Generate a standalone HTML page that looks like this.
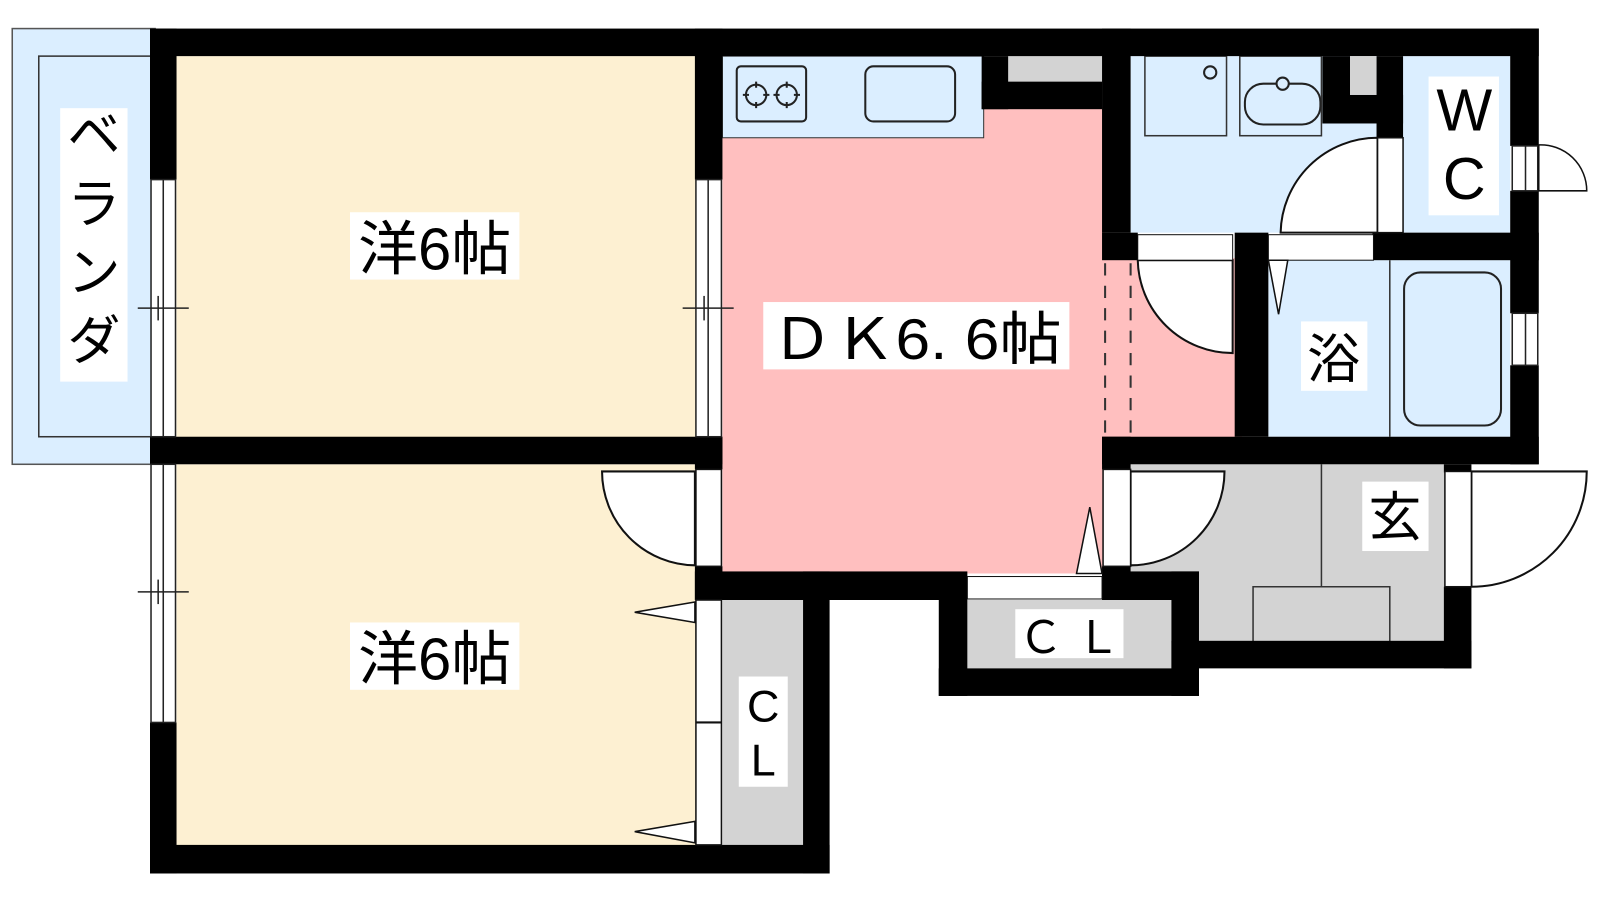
<!DOCTYPE html>
<html><head><meta charset="utf-8"><style>
html,body{margin:0;padding:0;background:#fff;width:1600px;height:900px;overflow:hidden}
svg{display:block}
text{font-family:"Liberation Sans","Noto Sans CJK JP",sans-serif;fill:#000}
</style></head><body>
<svg width="1600" height="900" viewBox="0 0 1568 882" xmlns="http://www.w3.org/2000/svg">
<!-- veranda -->
<rect x="12" y="28" width="140" height="427" fill="#dbeeff" stroke="#555" stroke-width="1.5"/>
<rect x="38" y="55" width="112" height="373" fill="none" stroke="#333" stroke-width="1.5"/>
<rect x="59" y="106" width="66" height="268" fill="#fff"/>
<text x="92" y="150" font-size="52" text-anchor="middle">ベ</text>
<text x="92" y="218" font-size="52" text-anchor="middle">ラ</text>
<text x="92" y="285" font-size="52" text-anchor="middle">ン</text>
<text x="92" y="352" font-size="52" text-anchor="middle">ダ</text>
<!-- rooms -->
<rect x="173" y="55" width="510" height="375" fill="#fdf0d2"/>
<rect x="173" y="455" width="510" height="375" fill="#fdf0d2"/>
<rect x="708" y="105" width="375" height="457" fill="#ffbfbf"/>
<rect x="1080" y="253" width="137" height="177" fill="#ffbfbf"/>
<rect x="708" y="55" width="256" height="80" fill="#dbeeff" stroke="#333" stroke-width="1"/>
<rect x="722" y="65" width="68" height="54" rx="4" fill="none" stroke="#222" stroke-width="2"/>
<g stroke="#222" stroke-width="2" fill="none">
<circle cx="741" cy="93" r="10"/><circle cx="771" cy="93" r="10"/>
<path d="M741,80v6M741,100v6M728,93h6M748,93h6M771,80v6M771,100v6M758,93h6M778,93h6"/>
</g>
<rect x="848" y="65" width="88" height="54" rx="8" fill="none" stroke="#222" stroke-width="2"/>
<rect x="988" y="55" width="92" height="25" fill="#d3d3d3"/>
<line x1="1083" y1="258" x2="1083" y2="428" stroke="#333" stroke-width="2" stroke-dasharray="12,10"/>
<line x1="1108" y1="258" x2="1108" y2="428" stroke="#333" stroke-width="2" stroke-dasharray="12,10"/>
<!-- wash -->
<rect x="1108" y="55" width="245" height="173" fill="#dbeeff"/>
<rect x="1122" y="55" width="80" height="78" fill="none" stroke="#333" stroke-width="1.5"/>
<circle cx="1186" cy="71" r="6" fill="none" stroke="#222" stroke-width="2"/>
<rect x="1215" y="55" width="80" height="78" fill="none" stroke="#333" stroke-width="1.5"/>
<rect x="1220" y="82" width="74" height="40" rx="18" fill="none" stroke="#222" stroke-width="2"/>
<circle cx="1257" cy="82" r="6" fill="#dbeeff" stroke="#222" stroke-width="2"/>
<rect x="1375" y="55" width="105" height="173" fill="#dbeeff"/>
<rect x="1400" y="75" width="69" height="136" fill="#fff"/>
<text x="1435" y="128" font-size="58" text-anchor="middle">W</text>
<text x="1435" y="195" font-size="58" text-anchor="middle">C</text>
<!-- bath -->
<rect x="1243" y="255" width="237" height="173" fill="#dbeeff"/>
<line x1="1362" y1="255" x2="1362" y2="428" stroke="#333" stroke-width="1.5"/>
<rect x="1376" y="267" width="95" height="150" rx="16" fill="none" stroke="#222" stroke-width="2"/>
<rect x="1275" y="315" width="65" height="68" fill="#fff"/>
<text x="1307" y="370" font-size="52" text-anchor="middle">浴</text>
<!-- entry -->
<rect x="1108" y="455" width="310" height="175" fill="#d3d3d3"/>
<line x1="1295" y1="455" x2="1295" y2="575" stroke="#333" stroke-width="1.5"/>
<polyline points="1228,630 1228,575 1362,575 1362,630" fill="none" stroke="#333" stroke-width="1.5"/>
<rect x="1335" y="472" width="65" height="68" fill="#fff"/>
<text x="1367" y="525" font-size="52" text-anchor="middle">玄</text>
<!-- closets -->
<rect x="948" y="588" width="200" height="67" fill="#d3d3d3"/>
<rect x="995" y="597" width="106" height="48" fill="#fff"/>
<text x="1048" y="640" font-size="44" text-anchor="middle">Ｃ Ｌ</text>
<rect x="708" y="588" width="80" height="240" fill="#d3d3d3"/>
<rect x="724" y="663" width="48" height="108" fill="#fff"/>
<text x="748" y="707" font-size="44" text-anchor="middle">C</text>
<text x="748" y="760" font-size="44" text-anchor="middle">L</text>
<!-- walls -->
<g fill="#000">
<rect x="147" y="28" width="1361" height="27"/>
<rect x="147" y="28" width="26" height="148"/>
<rect x="147" y="708" width="26" height="148"/>
<rect x="147" y="428" width="561" height="27"/>
<rect x="147" y="828" width="666" height="28"/>
<rect x="787" y="560" width="26" height="296"/>
<rect x="681" y="28" width="27" height="148"/>
<rect x="681" y="428" width="27" height="32"/>
<rect x="681" y="555" width="27" height="33"/>
<rect x="681" y="560" width="267" height="28"/>
<rect x="962" y="55" width="26" height="52"/>
<rect x="962" y="80" width="118" height="27"/>
<rect x="1080" y="28" width="28" height="200"/>
<rect x="1080" y="228" width="35" height="27"/>
<rect x="1210" y="228" width="33" height="200"/>
<rect x="1345" y="228" width="163" height="27"/>
<rect x="1296" y="55" width="27" height="66"/>
<rect x="1296" y="93" width="79" height="28"/>
<rect x="1349" y="55" width="26" height="80"/>
<rect x="1480" y="28" width="28" height="115"/>
<rect x="1480" y="187" width="28" height="120"/>
<rect x="1480" y="358" width="28" height="97"/>
<rect x="1080" y="428" width="428" height="27"/>
<rect x="1080" y="428" width="28" height="32"/>
<rect x="1415" y="455" width="27" height="8"/>
<rect x="1415" y="575" width="27" height="80"/>
<rect x="1148" y="628" width="294" height="27"/>
<rect x="1080" y="555" width="28" height="33"/>
<rect x="1080" y="560" width="95" height="28"/>
<rect x="1148" y="560" width="27" height="122"/>
<rect x="920" y="588" width="28" height="94"/>
<rect x="920" y="655" width="255" height="27"/>
</g>
<rect x="1323" y="55" width="26" height="38" fill="#d3d3d3"/>
<!-- windows -->
<g fill="#fff" stroke="#222" stroke-width="1.5">
<rect x="148" y="176" width="24" height="252"/>
<rect x="148" y="455" width="24" height="253"/>
<rect x="682" y="176" width="25" height="252"/>
<rect x="1482" y="143" width="25" height="44"/>
<rect x="1482" y="307" width="25" height="51"/>
</g>
<g stroke="#222" stroke-width="1.5" fill="none">
<line x1="160" y1="176" x2="160" y2="428"/><line x1="160" y1="455" x2="160" y2="708"/>
<line x1="694" y1="176" x2="694" y2="428"/>
<line x1="135" y1="302" x2="185" y2="302"/><line x1="155" y1="290" x2="155" y2="314"/>
<line x1="135" y1="580" x2="185" y2="580"/><line x1="155" y1="568" x2="155" y2="592"/>
<line x1="669" y1="302" x2="719" y2="302"/><line x1="690" y1="290" x2="690" y2="314"/>
<line x1="1495" y1="143" x2="1495" y2="187"/><line x1="1495" y1="307" x2="1495" y2="358"/>
</g>
<!-- doors -->
<g fill="#fff" stroke="#111" stroke-width="2">
<path d="M681,462 L590,462 A92,92 0 0 0 681,554 Z"/>
<rect x="682" y="460" width="25" height="95" stroke-width="1.5"/>
<path d="M1108,462 L1200,462 A92,92 0 0 1 1108,554 Z"/>
<rect x="1081" y="460" width="27" height="95" stroke-width="1.5"/>
<path d="M1442,462 L1555,462 A113,113 0 0 1 1442,575 Z"/>
<rect x="1416" y="462" width="26" height="113" stroke-width="1.5"/>
<path d="M1115,255 L1208,255 L1208,346 A93,93 0 0 1 1115,255 Z"/>
<rect x="1115" y="230" width="93" height="25" stroke-width="1"/>
<path d="M1350,228 L1255,228 A95,95 0 0 1 1350,135 Z"/>
<rect x="1350" y="135" width="25" height="93" stroke-width="1.5"/>
<rect x="1243" y="230" width="103" height="25" stroke-width="1"/>
<polygon points="1243,255 1262,255 1253,308" stroke-width="1.5"/>
<path d="M1508,142 A45,45 0 0 1 1555,187 L1508,187 Z" stroke-width="1.5"/>
<rect x="948" y="565" width="132" height="22" stroke-width="1"/>
<polygon points="1055,562 1080,562 1068,497" stroke-width="1.5"/>
<rect x="682" y="588" width="25" height="240" stroke-width="1.5"/>
<line x1="682" y1="708" x2="707" y2="708"/>
<polygon points="681,590 622,600 681,610" stroke-width="1.5"/>
<polygon points="681,805 622,815 681,826" stroke-width="1.5"/>
</g>
<!-- labels -->
<rect x="343" y="208" width="166" height="66" fill="#fff"/>
<text x="426" y="264" font-size="58" text-anchor="middle" textLength="150" lengthAdjust="spacingAndGlyphs">洋6帖</text>
<rect x="343" y="610" width="166" height="66" fill="#fff"/>
<text x="426" y="666" font-size="58" text-anchor="middle" textLength="150" lengthAdjust="spacingAndGlyphs">洋6帖</text>
<rect x="748" y="296" width="300" height="66" fill="#fff"/>
<text x="898" y="352" font-size="56" text-anchor="middle" textLength="285" lengthAdjust="spacingAndGlyphs">ＤＫ6. 6帖</text>
</svg>
</body></html>
